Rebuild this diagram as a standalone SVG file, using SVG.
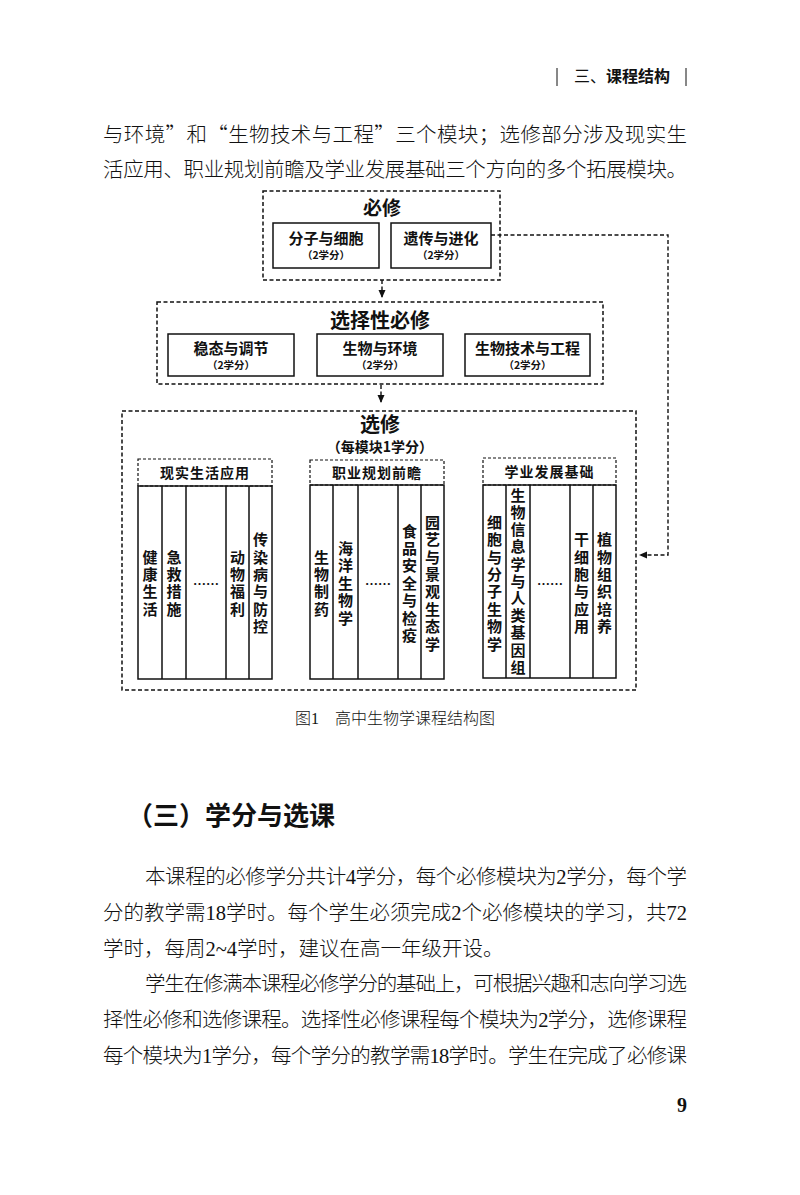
<svg xmlns="http://www.w3.org/2000/svg" width="800" height="1195" viewBox="0 0 800 1195">
<style>
.body{font-family:"Noto Sans CJK SC","Liberation Serif",sans-serif;font-size:20.5px;font-weight:300;fill:#111}
.n{font-family:"Liberation Serif","Noto Sans CJK SC",serif}
.d{font-family:"Noto Sans CJK SC",sans-serif;font-weight:700;fill:#111;text-anchor:middle}
.t1{font-size:19px}
.t2{font-size:15px}
.t3{font-size:10.5px}
.t4{font-size:14px}
.v{font-size:15px}
.dash{fill:none;stroke:#111;stroke-width:1.5;stroke-dasharray:4 2.5}
.dash2{fill:none;stroke:#111;stroke-width:1.2;stroke-dasharray:3 2}
.solid{fill:none;stroke:#111;stroke-width:1.5}
.conn{fill:none;stroke:#111;stroke-width:1.4;stroke-dasharray:4 2.5}
</style>
<defs>
<marker id="ah" viewBox="0 0 8 8" refX="8" refY="4" markerWidth="8" markerHeight="8" markerUnits="userSpaceOnUse" orient="auto">
<path d="M0,0.5 L8,4 L0,7.5 z" fill="#111"/>
</marker>
</defs>
<rect width="800" height="1195" fill="#fff"/>

<!-- running header -->
<g id="header">
<line x1="557" y1="68" x2="557" y2="86" stroke="#111" stroke-width="1"/>
<line x1="686" y1="68" x2="686" y2="86" stroke="#111" stroke-width="1"/>
<text x="574" y="82" font-family="Noto Sans CJK SC,sans-serif" font-size="16" fill="#111"><tspan font-weight="400">三、</tspan><tspan font-weight="700">课程结构</tspan></text>
</g>

<!-- paragraph 1 -->
<text class="body" x="103" y="142" textLength="584" lengthAdjust="spacing">与环境”和“生物技术与工程”三个模块；选修部分涉及现实生</text>
<text class="body" x="103" y="177" textLength="584" lengthAdjust="spacing">活应用、职业规划前瞻及学业发展基础三个方向的多个拓展模块。</text>

<!-- connectors -->
<g id="connectors">
<path class="conn" d="M382,280 V298" marker-end="url(#ah)"/>
<path class="conn" d="M381,385 V403" marker-end="url(#ah)"/>
<path class="conn" d="M491,235 H668 V555 H639" marker-end="url(#ah)"/>
</g>

<!-- 必修 -->
<g id="bixiu">
<rect class="dash" x="263" y="191" width="237" height="89"/>
<text class="d t1" x="382" y="215">必修</text>
</g>
<g id="fenzi">
<rect class="solid" x="273" y="223" width="106" height="45"/>
<text class="d t2" x="326" y="244">分子与细胞</text>
<text class="d t3" x="326" y="259">（2学分）</text>
</g>
<g id="yichuan">
<rect class="solid" x="391" y="223" width="100" height="45"/>
<text class="d t2" x="441" y="244">遗传与进化</text>
<text class="d t3" x="441" y="259">（2学分）</text>
</g>

<!-- 选择性必修 -->
<g id="xuanzexing">
<rect class="dash" x="157" y="302" width="446" height="82"/>
<text class="d" style="font-size:20px" x="380" y="328">选择性必修</text>
</g>
<g id="wentai">
<rect class="solid" x="168" y="334" width="126" height="42"/>
<text class="d t2" x="231" y="354">稳态与调节</text>
<text class="d t3" x="231" y="369">（2学分）</text>
</g>
<g id="huanjing">
<rect class="solid" x="317" y="334" width="126" height="42"/>
<text class="d t2" x="380" y="354">生物与环境</text>
<text class="d t3" x="380" y="369">（2学分）</text>
</g>
<g id="jishu">
<rect class="solid" x="465" y="334" width="125" height="42"/>
<text class="d t2" x="527.5" y="354">生物技术与工程</text>
<text class="d t3" x="527.5" y="369">（2学分）</text>
</g>

<!-- 选修 -->
<g id="xuanxiu">
<rect class="dash" x="122" y="411" width="514" height="279"/>
<text class="d" style="font-size:20px" x="380" y="432">选修</text>
<text class="d t4" x="380" y="452">（每模块1学分）</text>
</g>

<!-- 现实生活应用 -->
<g id="xianshi">
<rect class="dash2" x="138" y="459" width="134" height="27"/>
<rect class="solid" x="138" y="486" width="134" height="193"/>
<path class="solid" d="M162,486 V679 M186,486 V679 M226,486 V679 M249,486 V679"/>
<text class="d t4" x="205" y="478" letter-spacing="1">现实生活应用</text>
<text class="d v" x="150 150 150 150" y="562.6 580 597.4 614.8">健康生活</text>
<text class="d v" x="174 174 174 174" y="562.6 580 597.4 614.8">急救措施</text>
<text class="d" style="font-size:13px" x="206" y="589">……</text>
<text class="d v" x="237.5 237.5 237.5 237.5" y="562.6 580 597.4 614.8">动物福利</text>
<text class="d v" x="260.5 260.5 260.5 260.5 260.5 260.5" y="545.2 562.6 580 597.4 614.8 632.2">传染病与防控</text>
</g>

<!-- 职业规划前瞻 -->
<g id="zhiye">
<rect class="dash2" x="310" y="460" width="134" height="25"/>
<rect class="solid" x="310" y="485" width="134" height="194"/>
<path class="solid" d="M333,485 V679 M358,485 V679 M398,485 V679 M421,485 V679"/>
<text class="d t4" x="377" y="478" letter-spacing="1">职业规划前瞻</text>
<text class="d v" x="321.5 321.5 321.5 321.5" y="562.6 580 597.4 614.8">生物制药</text>
<text class="d v" x="345.5 345.5 345.5 345.5 345.5" y="553.9 571.3 588.7 606.1 623.5">海洋生物学</text>
<text class="d" style="font-size:13px" x="378" y="589">……</text>
<text class="d v" x="409.5 409.5 409.5 409.5 409.5 409.5 409.5" y="536.5 553.9 571.3 588.7 606.1 623.5 640.9">食品安全与检疫</text>
<text class="d v" x="432.5 432.5 432.5 432.5 432.5 432.5 432.5 432.5" y="527.8 545.2 562.6 580 597.4 614.8 632.2 649.6">园艺与景观生态学</text>
</g>

<!-- 学业发展基础 -->
<g id="xueye">
<rect class="dash2" x="483" y="458" width="133" height="27"/>
<rect class="solid" x="483" y="485" width="133" height="193"/>
<path class="solid" d="M506,485 V678 M530,485 V678 M570,485 V678 M593,485 V678"/>
<text class="d t4" x="549.5" y="477" letter-spacing="1">学业发展基础</text>
<text class="d v" x="494.5 494.5 494.5 494.5 494.5 494.5 494.5 494.5" y="527.8 545.2 562.6 580 597.4 614.8 632.2 649.6">细胞与分子生物学</text>
<text class="d v" x="518 518 518 518 518 518 518 518 518 518 518" y="500.7 517.9 535.1 552.3 569.5 586.7 603.9 621.1 638.3 655.5 672.7">生物信息学与人类基因组</text>
<text class="d" style="font-size:13px" x="550" y="589">……</text>
<text class="d v" x="581.5 581.5 581.5 581.5 581.5 581.5" y="545.2 562.6 580 597.4 614.8 632.2">干细胞与应用</text>
<text class="d v" x="604.5 604.5 604.5 604.5 604.5 604.5" y="545.2 562.6 580 597.4 614.8 632.2">植物组织培养</text>
</g>

<!-- caption -->
<text x="395" y="724" text-anchor="middle" font-family="Noto Sans CJK SC,sans-serif" font-size="16" font-weight="300" fill="#111">图<tspan class="n">1</tspan>　高中生物学课程结构图</text>

<!-- heading -->
<text x="127" y="825" font-family="Noto Sans CJK SC,sans-serif" font-size="26" font-weight="700" fill="#111">（三）学分与选课</text>

<!-- paragraph 2 -->
<text class="body" x="145" y="884" textLength="542" lengthAdjust="spacing">本课程的必修学分共计<tspan class="n">4</tspan>学分，每个必修模块为<tspan class="n">2</tspan>学分，每个学</text>
<text class="body" x="103" y="920" textLength="584" lengthAdjust="spacing">分的教学需<tspan class="n">18</tspan>学时。每个学生必须完成<tspan class="n">2</tspan>个必修模块的学习，共<tspan class="n">72</tspan></text>
<text class="body" x="103" y="956">学时，每周<tspan class="n">2~4</tspan>学时，建议在高一年级开设。</text>
<text class="body" x="145" y="991" textLength="542" lengthAdjust="spacing">学生在修满本课程必修学分的基础上，可根据兴趣和志向学习选</text>
<text class="body" x="103" y="1027" textLength="584" lengthAdjust="spacing">择性必修和选修课程。选择性必修课程每个模块为<tspan class="n">2</tspan>学分，选修课程</text>
<text class="body" x="103" y="1063" textLength="584" lengthAdjust="spacing">每个模块为<tspan class="n">1</tspan>学分，每个学分的教学需<tspan class="n">18</tspan>学时。学生在完成了必修课</text>

<!-- page number -->
<text x="687" y="1112" font-family="Liberation Serif,serif" font-size="20" font-weight="700" text-anchor="end" fill="#111">9</text>
</svg>
